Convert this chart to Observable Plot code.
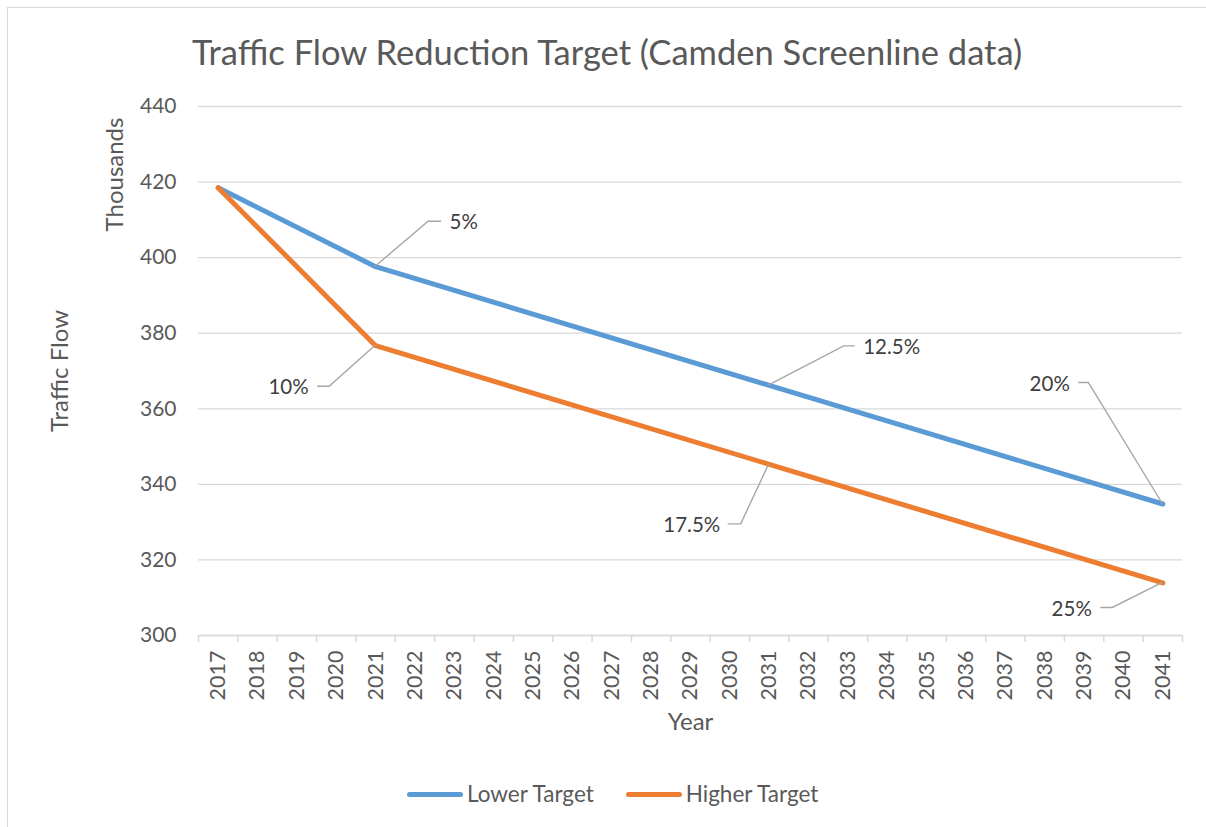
<!DOCTYPE html>
<html>
<head>
<meta charset="utf-8">
<script src="https://cdn.jsdelivr.net/npm/d3@7"></script>
<script src="https://cdn.jsdelivr.net/npm/@observablehq/plot@0.6"></script>
<style>
  body { margin: 0; background: #fff; }
  #wrap { position: relative; width: 1206px; height: 827px; overflow: hidden; font-family: Lato, "Open Sans", sans-serif; background: #fff; }
  #frame { position: absolute; left: 7px; top: 7px; width: 1300px; height: 900px; border-left: 1.5px solid #d9d9d9; border-top: 1.5px solid #d9d9d9; pointer-events: none; }
  #chart { position: absolute; left: 0; top: 0; }
  #title { position: absolute; left: 192px; top: 35px; font-size: 34.5px; color: #595959; white-space: nowrap; line-height: 1; }
  #legend { position: absolute; top: 783px; left: 407px; display: flex; align-items: center; font-size: 22.5px; color: #595959; white-space: nowrap; line-height: 1; }
  .item { display: flex; align-items: center; margin-right: 32px; }
  .swatch { width: 56px; height: 5px; border-radius: 3px; margin-right: 4px; }
</style>
</head>
<body>
<div id="wrap">
  <div id="chart"></div>
  <div id="frame"></div>
  <div id="title"></div>
  <div id="legend"></div>
</div>
<script>
// ---- Data ----
const chartTitle = "Traffic Flow Reduction Target (Camden Screenline data)";
const seriesNames = ["Lower Target", "Higher Target"];
const seriesColors = ["#5B9BD5", "#ED7D31"];
const pointYears = [2017, 2021, 2031, 2041];
const lowerTarget = [418.5, 397.6, 366.2, 334.8];
const higherTarget = [418.5, 376.7, 345.3, 313.9];
const yearLabels = [2017, 2018, 2019, 2020, 2021, 2022, 2023, 2024, 2025, 2026, 2027, 2028, 2029,
                    2030, 2031, 2032, 2033, 2034, 2035, 2036, 2037, 2038, 2039, 2040, 2041];
const yTicks = [300, 320, 340, 360, 380, 400, 420, 440];
const annLabels = ["5%", "10%", "12.5%", "17.5%", "20%", "25%"];
const annYears = [2021, 2021, 2031, 2031, 2041, 2041];
const annSeries = ["Lower Target", "Higher Target", "Lower Target", "Higher Target", "Lower Target", "Higher Target"];

// ---- Style config (pixel offsets for label leaders) ----
const leaderStyle = {
  "5%":    {ex: 53,  ey: -45,  hx: 66,  tx: 74,  anchor: "start"},
  "10%":   {ex: -46, ey: 41,   hx: -58, tx: -67, anchor: "end"},
  "12.5%": {ex: 75,  ey: -39,  hx: 86,  tx: 94,  anchor: "start"},
  "17.5%": {ex: -28, ey: 60,   hx: -41, tx: -49, anchor: "end"},
  "20%":   {ex: -74, ey: -121, hx: -84, tx: -93, anchor: "end"},
  "25%":   {ex: -50, ey: 25,   hx: -62, tx: -71, anchor: "end"}
};

// ---- Build tables ----
const rows = [];
pointYears.forEach((yr, i) => {
  rows.push({series: seriesNames[0], year: yr, value: lowerTarget[i]});
  rows.push({series: seriesNames[1], year: yr, value: higherTarget[i]});
});
const annotations = annLabels.map((label, i) => {
  const vals = annSeries[i] === seriesNames[0] ? lowerTarget : higherTarget;
  return {label, year: annYears[i], series: annSeries[i], value: vals[pointYears.indexOf(annYears[i])]};
});
const boundaries = yearLabels.map(y => y - 0.5).concat([yearLabels[yearLabels.length - 1] + 0.5]);

// leader lines drawn through the plot's scales
function leaders(index, scales) {
  const g = d3.create("svg:g").attr("fill", "none").attr("stroke", "#a6a6a6").attr("stroke-width", 1.4);
  for (const a of annotations) {
    const px = scales.x(a.year), py = scales.y(a.value);
    const o = leaderStyle[a.label];
    g.append("path").attr("d", `M${px},${py}L${px + o.ex},${py + o.ey}H${px + o.hx}`);
  }
  return g.node();
}

const labelMarks = annotations.map(a => {
  const o = leaderStyle[a.label];
  return Plot.text([a], {x: "year", y: "value", text: "label", dx: o.tx, dy: o.ey + 1,
    textAnchor: o.anchor, fill: "#404040", fontSize: 20.5});
});

const chart = Plot.plot({
  width: 1206,
  height: 827,
  marginLeft: 198,
  marginRight: 24,
  marginTop: 106,
  marginBottom: 192,
  style: {fontFamily: "Lato, 'Open Sans', sans-serif", fontSize: "21px", color: "#595959", background: "transparent"},
  x: {type: "linear", domain: [boundaries[0], boundaries[boundaries.length - 1]]},
  y: {domain: [300, 440]},
  color: {domain: seriesNames, range: seriesColors},
  marks: [
    Plot.gridY(yTicks, {stroke: "#d9d9d9", strokeOpacity: 1, strokeWidth: 1.3}),
    Plot.axisY({ticks: yTicks, tickSize: 0, tickPadding: 22, label: null, fontSize: 21}),
    Plot.ruleY([300], {stroke: "#d9d9d9", strokeWidth: 1.5}),
    Plot.axisX({ticks: boundaries, tickSize: 7, tickFormat: () => "", stroke: "#d9d9d9", strokeWidth: 1.5, label: null}),
    Plot.axisX({ticks: yearLabels, tickSize: 0, tickPadding: 15, tickRotate: -90, tickFormat: d => String(d), label: null, fontSize: 21.5}),
    Plot.text(["Year"], {frameAnchor: "bottom", dy: 87, lineAnchor: "middle", text: d => d, fontSize: 24, fill: "#595959"}),
    Plot.text(["Thousands"], {frameAnchor: "top-left", dx: -83, dy: 68, rotate: -90, textAnchor: "middle", lineAnchor: "middle", text: d => d, fontSize: 24, fill: "#595959"}),
    Plot.text(["Traffic Flow"], {frameAnchor: "left", dx: -138, rotate: -90, textAnchor: "middle", lineAnchor: "middle", text: d => d, fontSize: 24, fill: "#595959"}),
    Plot.line(rows, {x: "year", y: "value", z: "series", stroke: "series", strokeWidth: 5,
      strokeLinecap: "round", strokeLinejoin: "round"}),
    leaders,
    ...labelMarks
  ]
});
document.getElementById("chart").appendChild(chart);

document.getElementById("title").textContent = chartTitle;
const legend = document.getElementById("legend");
seriesNames.forEach((name, i) => {
  const item = document.createElement("div");
  item.className = "item";
  const sw = document.createElement("div");
  sw.className = "swatch";
  sw.style.background = seriesColors[i];
  const tx = document.createElement("span");
  tx.textContent = name;
  item.appendChild(sw); item.appendChild(tx);
  legend.appendChild(item);
});
</script>
</body>
</html>
